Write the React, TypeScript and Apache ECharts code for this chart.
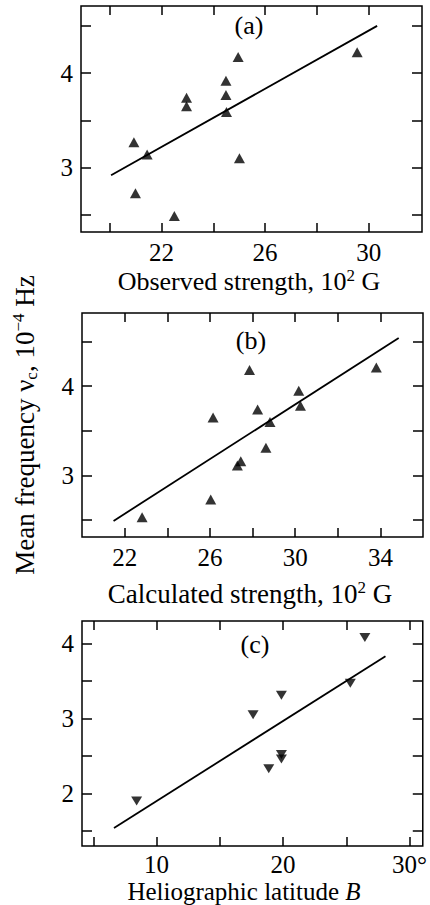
import React, { useEffect, useRef } from "react";
import * as echarts from "echarts";

// Panel (a): observed strength (10^2 G) vs mean frequency (10^-4 Hz)
const obsStrengthA = [20.94, 21.45, 21.0, 22.5, 22.97, 22.97, 24.49, 24.49, 24.51, 24.96, 25.01, 29.55];
const freqA = [3.27, 3.14, 2.73, 2.49, 3.74, 3.65, 3.92, 3.77, 3.59, 4.17, 3.1, 4.22];
const fitA = [[20.06, 2.92], [30.32, 4.5]];

// Panel (b): calculated strength (10^2 G)
const calcStrengthB = [22.82, 26.04, 26.15, 27.29, 27.45, 27.86, 28.24, 28.63, 28.82, 30.17, 30.25, 33.81];
const freqB = [2.53, 2.73, 3.65, 3.11, 3.16, 4.18, 3.74, 3.31, 3.6, 3.95, 3.78, 4.21];
const fitB = [[21.48, 2.49], [34.86, 4.54]];

// Panel (c): heliographic latitude B (deg)
const latitudeC = [8.42, 17.63, 18.87, 19.87, 19.87, 19.87, 25.32, 26.47];
const freqC = [1.9, 3.05, 2.33, 3.31, 2.52, 2.46, 3.47, 4.08];
const fitC = [[6.63, 1.54], [28.1, 3.83]];

// ticks / labels
const xTicksA = [20, 22, 24, 26, 28, 30];
const xLabelsA = [22, 26, 30];
const yTicksA = [2.5, 3, 3.5, 4, 4.5];
const yLabelsA = [3, 4];
const xTicksB = [22, 24, 26, 28, 30, 32, 34];
const xLabelsB = [22, 26, 30, 34];
const yTicksB = [2.5, 3, 3.5, 4, 4.5];
const yLabelsB = [3, 4];
const xTicksC = [5, 10, 15, 20, 25, 30];
const xLabelsC = [10, 20, 30];
const yTicksC = [1.5, 2, 2.5, 3, 3.5, 4];
const yLabelsC = [2, 3, 4];

const FONT = "'Liberation Serif', 'Times New Roman', 'DejaVu Serif', serif";
const TICK_FS = 25;

export default function App() {
  const ref = useRef<HTMLDivElement>(null);

  useEffect(() => {
    document.body.style.margin = "0";
    const chart = echarts.init(ref.current!, null, { renderer: "svg" });

    const grids = [
      { left: 81, top: 6, width: 341, height: 226, show: true, borderColor: "#000", borderWidth: 1.5, backgroundColor: "transparent" },
      { left: 82, top: 313, width: 341, height: 224, show: true, borderColor: "#000", borderWidth: 1.5, backgroundColor: "transparent" },
      { left: 82, top: 621, width: 341, height: 225, show: true, borderColor: "#000", borderWidth: 1.5, backgroundColor: "transparent" },
    ];

    const xr = [
      { min: 18.9, max: 32.05, ticks: xTicksA, labels: xLabelsA, fmt: (v: number) => String(v), margin: 8 },
      { min: 20, max: 36, ticks: xTicksB, labels: xLabelsB, fmt: (v: number) => String(v), margin: 8 },
      { min: 4.1, max: 31.05, ticks: xTicksC, labels: xLabelsC, fmt: (v: number) => (v === 30 ? "30°" : String(v)), margin: 6 },
    ];
    const yr = [
      { min: 2.32, max: 4.71, ticks: yTicksA, labels: yLabelsA },
      { min: 2.31, max: 4.82, ticks: yTicksB, labels: yLabelsB },
      { min: 1.3, max: 4.3, ticks: yTicksC, labels: yLabelsC },
    ];

    const xAxes: any[] = [];
    const yAxes: any[] = [];
    for (let i = 0; i < 3; i++) {
      const x = xr[i];
      const y = yr[i];
      xAxes.push({
        type: "value",
        gridIndex: i,
        position: "bottom",
        min: x.min,
        max: x.max,
        axisLine: { show: false },
        splitLine: { show: false },
        axisTick: { show: true, inside: true, length: 9, customValues: x.ticks, lineStyle: { color: "#000", width: 1.5 } },
        axisLabel: {
          show: true,
          customValues: x.labels,
          formatter: x.fmt,
          color: "#000",
          fontFamily: FONT,
          fontSize: TICK_FS,
          margin: x.margin,
        },
      });
      xAxes.push({
        type: "value",
        gridIndex: i,
        position: "top",
        min: x.min,
        max: x.max,
        axisLine: { show: false },
        splitLine: { show: false },
        axisTick: { show: true, inside: true, length: 9, customValues: x.ticks, lineStyle: { color: "#000", width: 1.5 } },
        axisLabel: { show: false },
      });
      yAxes.push({
        type: "value",
        gridIndex: i,
        position: "left",
        min: y.min,
        max: y.max,
        axisLine: { show: false },
        splitLine: { show: false },
        axisTick: { show: true, inside: true, length: 10, customValues: y.ticks, lineStyle: { color: "#000", width: 1.5 } },
        axisLabel: { show: true, customValues: y.labels, color: "#000", fontFamily: FONT, fontSize: TICK_FS, margin: 8 },
        ...(i === 1
          ? {
              name: "{t|Mean frequency ν}{sub|c}{t|, 10}{sup|−4}{t| Hz}",
              nameLocation: "middle",
              nameRotate: 90,
              nameGap: 42,
              nameTextStyle: {
                rich: {
                  t: { fontFamily: FONT, fontSize: 27, color: "#000", lineHeight: 30 },
                  sub: { fontFamily: FONT, fontSize: 17, color: "#000", verticalAlign: "bottom", lineHeight: 24 },
                  sup: { fontFamily: FONT, fontSize: 17, color: "#000", verticalAlign: "top", lineHeight: 20 },
                },
              },
            }
          : {}),
      });
      yAxes.push({
        type: "value",
        gridIndex: i,
        position: "right",
        min: y.min,
        max: y.max,
        axisLine: { show: false },
        splitLine: { show: false },
        axisTick: { show: true, inside: true, length: 10, customValues: y.ticks, lineStyle: { color: "#000", width: 1.5 } },
        axisLabel: { show: false },
      });
    }

    const pts = (xs: number[], ys: number[]) => xs.map((v, k) => [v, ys[k]]);
    const scatter = (i: number, data: number[][], down: boolean) => ({
      type: "scatter",
      xAxisIndex: i * 2,
      yAxisIndex: i * 2,
      data,
      symbol: "triangle",
      symbolRotate: down ? 180 : 0,
      symbolSize: down ? [11, 9] : [11, 10],
      itemStyle: { color: "#000" },
      z: 3,
    });
    const fit = (i: number, data: number[][]) => ({
      type: "line",
      xAxisIndex: i * 2,
      yAxisIndex: i * 2,
      data,
      showSymbol: false,
      symbol: "none",
      lineStyle: { color: "#000", width: 1.8 },
      z: 2,
    });

    const richFor = (fs: number) => ({
      t: { fontFamily: FONT, fontSize: fs, fill: "#000", lineHeight: fs + 3 },
      i: { fontFamily: FONT, fontSize: fs, fill: "#000", fontStyle: "italic", lineHeight: fs + 3 },
      sup: { fontFamily: FONT, fontSize: Math.round(fs * 0.64), fill: "#000", verticalAlign: "top", lineHeight: Math.round(fs * 0.74) },
    });

    const xTitle = (text: string, x: number, y: number, fs: number) => ({
      type: "text",
      x,
      y,
      style: { text, align: "center", verticalAlign: "middle", rich: richFor(fs), fill: "#000" },
    });
    const panelLabel = (text: string, x: number, y: number) => ({
      type: "text",
      x,
      y,
      style: { text, align: "center", verticalAlign: "middle", font: `26px ${FONT}`, fill: "#000" },
    });

    chart.setOption({
      animation: false,
      backgroundColor: "#fff",
      grid: grids,
      xAxis: xAxes,
      yAxis: yAxes,
      series: [
        scatter(0, pts(obsStrengthA, freqA), false),
        fit(0, fitA),
        scatter(1, pts(calcStrengthB, freqB), false),
        fit(1, fitB),
        scatter(2, pts(latitudeC, freqC), true),
        fit(2, fitC),
      ],
      graphic: [
        xTitle("{t|Observed strength, 10}{sup|2}{t| G}", 249, 281, 26),
        xTitle("{t|Calculated strength, 10}{sup|2}{t| G}", 250, 594, 27),
        xTitle("{t|Heliographic latitude }{i|B}", 244, 891, 25),
        panelLabel("(a)", 249, 25),
        panelLabel("(b)", 251, 340),
        panelLabel("(c)", 255, 644),
      ],
    });

    return () => chart.dispose();
  }, []);

  return <div ref={ref} style={{ width: 430, height: 905, position: "absolute", left: 0, top: 0 }} />;
}
